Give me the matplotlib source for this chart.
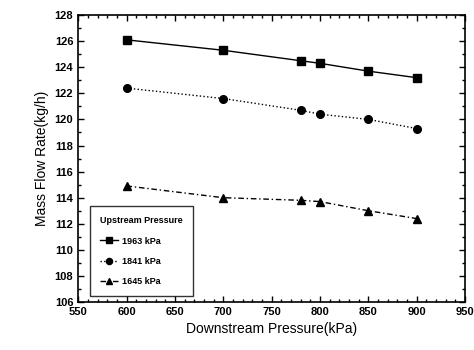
import matplotlib
matplotlib.use("Agg")
import matplotlib.pyplot as plt
from matplotlib.ticker import MultipleLocator

plt.rcParams['font.family'] = ['Liberation Sans', 'DejaVu Sans']

pressure = [600, 700, 780, 800, 850, 900]
flow_1963 = [126.1, 125.3, 124.5, 124.3, 123.7, 123.2]
flow_1841 = [122.4, 121.6, 120.7, 120.4, 120.0, 119.3]
flow_1645 = [114.9, 114.0, 113.8, 113.7, 113.0, 112.4]
labels = ['1963 kPa', '1841 kPa', '1645 kPa']

fig = plt.figure(figsize=(4.74, 3.5), dpi=100)
ax = fig.add_axes([0.165, 0.137, 0.816, 0.82])

ax.plot(pressure, flow_1963, '-', marker='s', color='black', ms=6, lw=1.0, label=labels[0])
ax.plot(pressure, flow_1841, ':', marker='o', color='black', ms=5.5, lw=1.0, label=labels[1])
ax.plot(pressure, flow_1645, '-.', marker='^', color='black', ms=6, lw=1.0, label=labels[2],
        dashes=(4, 2, 1, 2))

ax.set_xlim(550, 950)
ax.set_ylim(106, 128)
ax.xaxis.set_major_locator(MultipleLocator(50))
ax.xaxis.set_minor_locator(MultipleLocator(10))
ax.yaxis.set_major_locator(MultipleLocator(2))
ax.yaxis.set_minor_locator(MultipleLocator(1))
ax.tick_params(which='both', direction='in', top=True, right=True, labelsize=8, width=1.0)
ax.tick_params(which='major', length=4)
ax.tick_params(which='minor', length=2)
for lbl in ax.get_xticklabels() + ax.get_yticklabels():
    lbl.set_fontweight('bold')
for s in ax.spines.values():
    s.set_linewidth(1.2)

ax.set_xlabel('Downstream Pressure(kPa)', fontsize=10)
ax.set_ylabel('Mass Flow Rate(kg/h)', fontsize=10)

leg = ax.legend(loc='lower left', bbox_to_anchor=(0.02, 0.005), title='Upstream Pressure',
                fontsize=6.5, title_fontsize=6.5, frameon=True, fancybox=False,
                edgecolor='black', handlelength=2.0, borderpad=1.1, labelspacing=1.25,
                markerscale=0.8, handletextpad=0.4)
leg.get_title().set_fontweight('bold')
leg.get_frame().set_linewidth(1.0)
leg._legend_box.align = 'left'
for t in leg.get_texts():
    t.set_fontweight('bold')

fig.savefig('out.png', dpi=100)
